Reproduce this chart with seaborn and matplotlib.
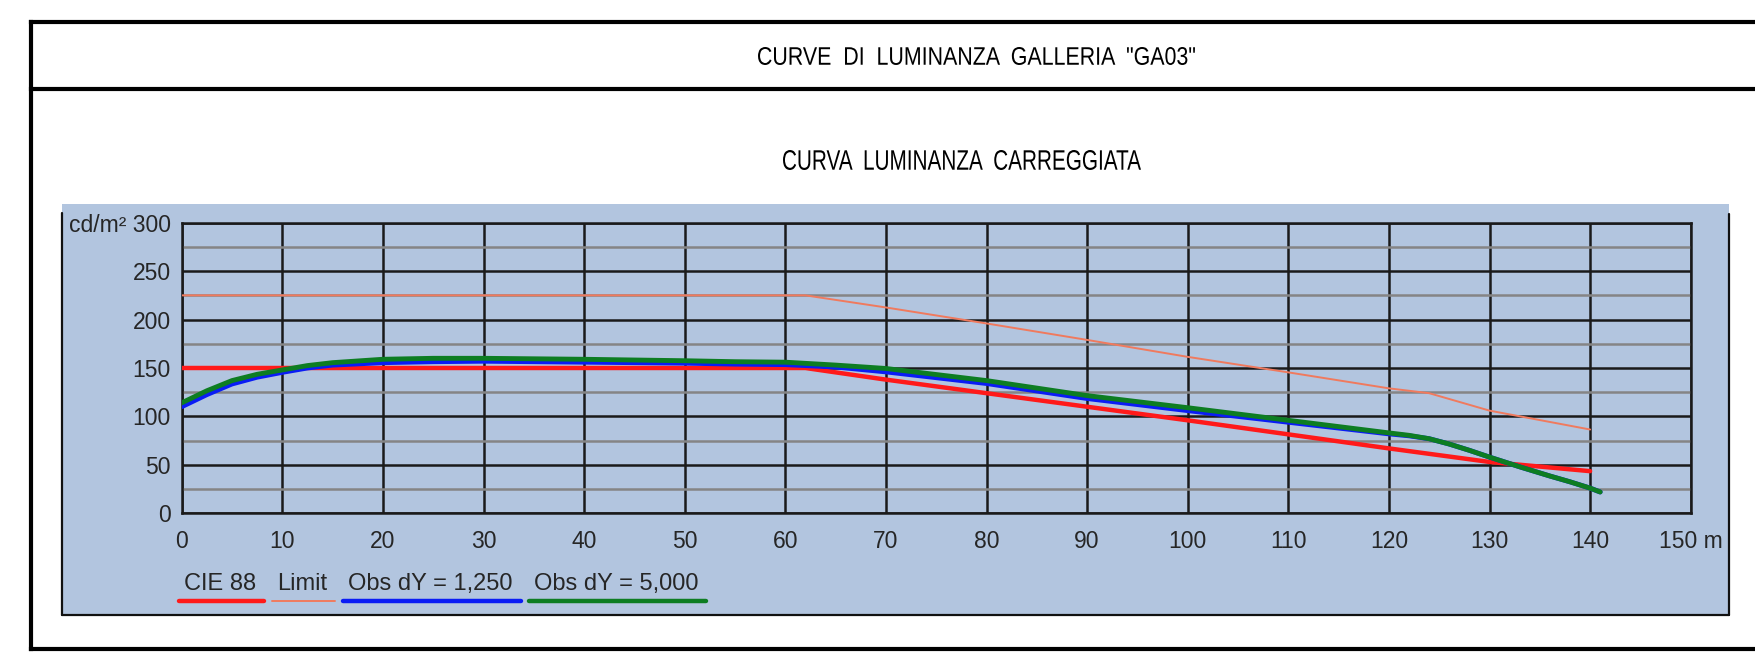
import matplotlib
matplotlib.use("Agg")
import matplotlib.pyplot as plt
import numpy as np
import pandas as pd
import seaborn as sns
from matplotlib.font_manager import FontProperties
from matplotlib.lines import Line2D
from matplotlib.patches import PathPatch, Rectangle
from matplotlib.textpath import TextPath
from matplotlib.transforms import Affine2D

# values (distance in m, luminance in cd/m2)
cie_x = [0, 62, 70, 80, 90, 100, 110, 120, 130, 140]
cie_y = [150, 150, 138, 124, 110, 96, 81.5, 67, 53, 43.5]

limit_x = [0, 62, 70, 80, 90, 100, 110, 120, 124, 130, 140]
limit_y = [225, 225, 212.5, 196, 179, 161.5, 145.5, 129, 124, 106, 86.5]

obs1_x = [0, 2.5, 5, 7.5, 10, 12.5, 15, 20, 25, 30, 40, 50, 55, 60, 65, 70, 80, 90, 100,
          110, 115, 120, 122, 124, 126, 128, 130, 133, 136, 138, 140, 141]
obs1_y = [110, 122.5, 133.5, 140.5, 145.5, 150, 153, 155.5, 156.5, 157, 156, 155, 154, 153.5, 151, 146, 134, 118.5, 106,
          94, 88, 82, 80, 77, 71.5, 65, 58, 48, 38.5, 32.5, 26, 22]

obs2_x = [0, 2.5, 5, 7.5, 10, 12.5, 15, 20, 25, 30, 40, 50, 55, 60, 65, 70, 80, 90, 100,
          110, 115, 120, 122, 124, 126, 128, 130, 133, 136, 138, 140, 141]
obs2_y = [114, 126.5, 137, 143.5, 148, 152.5, 155.5, 159, 160, 160, 159, 157.5, 156.5, 156, 153, 149.5, 137, 121.5, 109,
          96, 89.5, 83, 80.5, 77, 71.5, 65, 58, 48, 38.5, 32.5, 26, 22]

series_names = ["Limit", "CIE 88", "Obs dY = 1,250", "Obs dY = 5,000"]
legend_order = ["CIE 88", "Limit", "Obs dY = 1,250", "Obs dY = 5,000"]
colors = {"CIE 88": "#ff1a1a", "Limit": "#f07a5e", "Obs dY = 1,250": "#0a1cf5", "Obs dY = 5,000": "#0d7d22"}
widths = {"CIE 88": 3.2, "Limit": 1.4, "Obs dY = 1,250": 3.5, "Obs dY = 5,000": 3.5}

x_ticks = list(range(0, 151, 10))
x_labels = [str(t) for t in x_ticks[:-1]] + ["150 m"]
y_ticks = list(range(0, 301, 50))
y_labels = [str(t) for t in y_ticks[:-1]] + ["cd/m\u00b2 300"]

title_main = "CURVE  DI  LUMINANZA  GALLERIA  \"GA03\""
title_sub = "CURVA  LUMINANZA  CARREGGIATA"

frames = []
for name, xs, ys in [("CIE 88", cie_x, cie_y), ("Limit", limit_x, limit_y),
                     ("Obs dY = 1,250", obs1_x, obs1_y), ("Obs dY = 5,000", obs2_x, obs2_y)]:
    frames.append(pd.DataFrame({"distance": xs, "luminance": ys, "series": name}))
df = pd.concat(frames, ignore_index=True)

sns.set_theme(style="white")
plt.rcParams["font.family"] = ["Liberation Sans", "DejaVu Sans"]

W, H = 1755, 667
fig = plt.figure(figsize=(W / 100, H / 100), dpi=100)
fig.patch.set_facecolor("white")


def fx(px):
    return px / W


def fy(py):
    return 1 - py / H


def fline(x0, y0, x1, y1, **kw):
    fig.add_artist(Line2D([fx(x0), fx(x1)], [fy(y0), fy(y1)], transform=fig.transFigure, **kw))


def squeezed_text(s, x_left, x_right, y_top, y_bottom):
    """Condensed caption drawn as a path fitted into a pixel box (CAD-like lettering)."""
    path = TextPath((0, 0), s, size=40, prop=FontProperties(family="Liberation Sans"))
    ext = path.get_extents()
    sx = (x_right - x_left) / ext.width
    sy = (y_bottom - y_top) / ext.height
    tr = Affine2D().translate(-ext.x0, -ext.y0).scale(sx, sy).translate(x_left, H - y_bottom)
    fig.add_artist(PathPatch(path, transform=tr, facecolor="black", edgecolor="none"))


# drawing frame
frame_kw = dict(color="black", linewidth=3.0, solid_capstyle="projecting")
fline(31, 22, W + 5, 22, **frame_kw)
fline(31, 89, W + 5, 89, **frame_kw)
fline(31, 649, W + 5, 649, **frame_kw)
fline(31, 22, 31, 649, **frame_kw)

squeezed_text(title_main, 758, 1195, 47, 65)
squeezed_text(title_sub, 783, 1141, 150, 170)

# chart panel
fig.add_artist(Rectangle((fx(62), fy(615)), fx(1729) - fx(62), fy(204) - fy(615),
                         transform=fig.transFigure, facecolor="#b2c5df", edgecolor="none", zorder=0))
edge_kw = dict(color="#111111", linewidth=1.6)
fline(62, 213, 62, 615, **edge_kw)
fline(62, 615, 1729, 615, **edge_kw)
fline(1729, 214, 1729, 615, **edge_kw)

ax = fig.add_axes([fx(181.7), fy(513.3), fx(1690.7) - fx(181.7), fy(222.7) - fy(513.3)])
ax.set_facecolor("none")

sns.lineplot(data=df, x="distance", y="luminance", hue="series", hue_order=series_names,
             palette=colors, size="series", sizes=widths, size_order=series_names,
             estimator=None, sort=False, legend=False, ax=ax, zorder=3)

ax.set_xlim(0, 150)
ax.set_ylim(0, 300)
ax.set_xticks(x_ticks)
ax.set_xticklabels(x_labels)
ax.set_yticks(y_ticks)
ax.set_yticklabels(y_labels)
ax.set_yticks(np.arange(25, 300, 50), minor=True)
ax.grid(which="major", color="#1a1a1a", linewidth=1.8)
ax.grid(which="minor", axis="y", color="#858585", linewidth=1.8)
ax.set_axisbelow(True)
ax.tick_params(axis="both", which="both", length=0, labelsize=16.5, colors="#262626")
ax.tick_params(axis="x", pad=12)
ax.tick_params(axis="y", pad=8)
for spine in ax.spines.values():
    spine.set_visible(True)
    spine.set_color("#1a1a1a")
    spine.set_linewidth(1.8)
ax.set_xlabel("")
ax.set_ylabel("")

# legend: labels underlined by their line
renderer = fig.canvas.get_renderer()
x_pos = 184
for name in legend_order:
    txt = fig.text(fx(x_pos), fy(584), name, ha="left", va="center", fontsize=17, color="#262626")
    bb = txt.get_window_extent(renderer=renderer)
    x_end = bb.x1
    fline(x_pos - 5, 601, x_end + 8, 601, color=colors[name],
          linewidth=widths[name] if name == "Limit" else 3.2)
    x_pos = x_end + 21

fig.savefig("out.png", dpi=100, facecolor="white")
